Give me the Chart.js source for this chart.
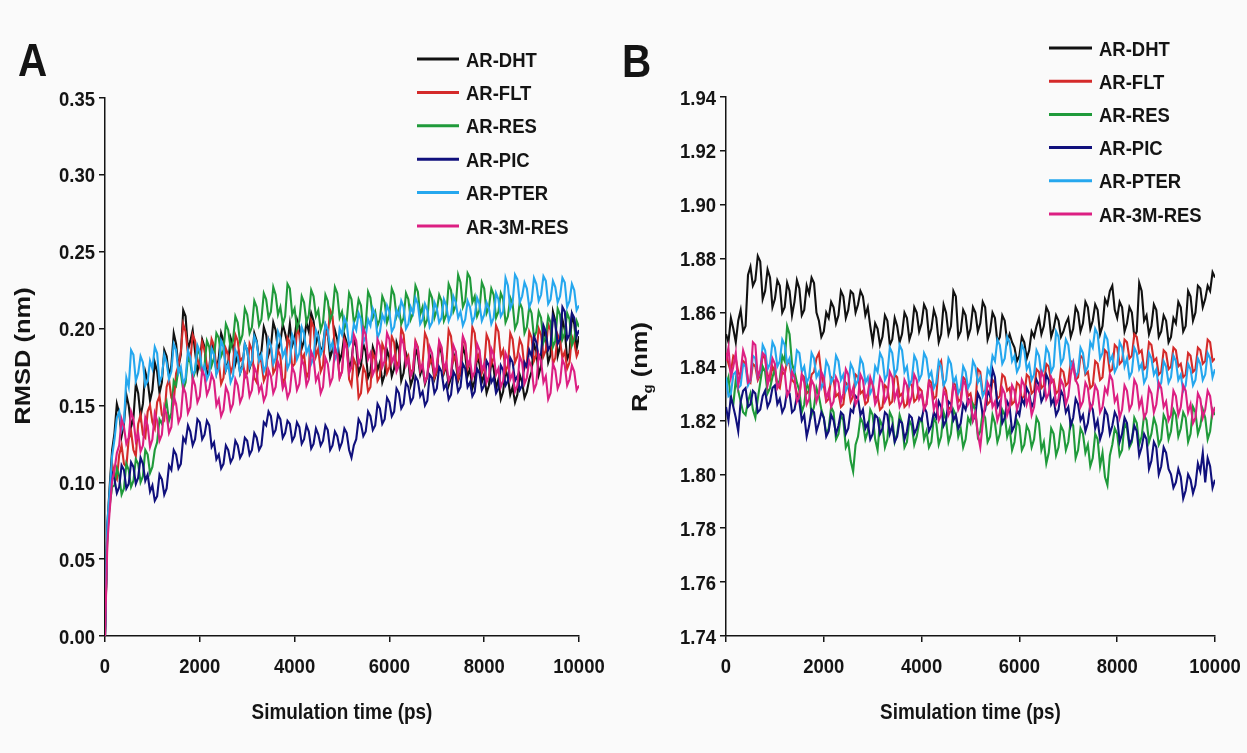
<!DOCTYPE html>
<html>
<head>
<meta charset="utf-8">
<script src="https://cdn.jsdelivr.net/npm/chart.js@4.4.1/dist/chart.umd.min.js"></script>
<style>
  html, body { margin: 0; padding: 0; background: #fafafa; }
  #wrap { position: relative; width: 1247px; height: 753px; overflow: hidden; }
  canvas { position: absolute; top: 0; }
  #chartA { left: 0; }
  #chartB { left: 620px; }
</style>
</head>
<body>
<div id="wrap">
  <canvas id="chartA" width="620" height="753"></canvas>
  <canvas id="chartB" width="627" height="753"></canvas>
</div>
<script>
// time axis, 0..10000 ps, one sample every 50 ps
const timePs = Array.from({ length: 201 }, (_, i) => i * 50);

const seriesNames = ['AR-DHT', 'AR-FLT', 'AR-RES', 'AR-PIC', 'AR-PTER', 'AR-3M-RES'];
const seriesColors = ['#111111', '#d42a2a', '#1f9a3a', '#10107c', '#25a7ee', '#dc1f82'];

const xTicks = [0, 2000, 4000, 6000, 8000, 10000];
const rmsdTicks = [0.00, 0.05, 0.10, 0.15, 0.20, 0.25, 0.30, 0.35];
const rgTicks = [1.74, 1.76, 1.78, 1.80, 1.82, 1.84, 1.86, 1.88, 1.90, 1.92, 1.94];

// panel A - RMSD (nm)
const rmsdDHT = [
  0, 0.072, 0.098, 0.121, 0.132, 0.151, 0.145, 0.130, 0.138, 0.157, 0.150, 0.136, 0.142, 0.164, 0.158, 0.143, 0.151, 0.172, 0.166, 0.153,
  0.160, 0.178, 0.172, 0.158, 0.165, 0.186, 0.182, 0.169, 0.176, 0.197, 0.190, 0.175, 0.183, 0.212, 0.208, 0.186, 0.192, 0.199, 0.185, 0.172,
  0.179, 0.193, 0.188, 0.169, 0.174, 0.191, 0.186, 0.172, 0.181, 0.197, 0.192, 0.173, 0.178, 0.194, 0.189, 0.177, 0.183, 0.171, 0.176, 0.190,
  0.186, 0.174, 0.179, 0.197, 0.192, 0.180, 0.185, 0.201, 0.196, 0.183, 0.188, 0.204, 0.199, 0.186, 0.191, 0.203, 0.197, 0.190, 0.203, 0.189,
  0.194, 0.206, 0.201, 0.187, 0.192, 0.204, 0.198, 0.210, 0.205, 0.190, 0.196, 0.184, 0.189, 0.202, 0.197, 0.181, 0.186, 0.199, 0.193, 0.179,
  0.184, 0.196, 0.191, 0.174, 0.179, 0.193, 0.188, 0.171, 0.176, 0.190, 0.185, 0.168, 0.172, 0.188, 0.183, 0.173, 0.178, 0.165, 0.170, 0.186,
  0.181, 0.169, 0.174, 0.191, 0.186, 0.166, 0.171, 0.184, 0.179, 0.163, 0.168, 0.187, 0.182, 0.170, 0.175, 0.164, 0.169, 0.183, 0.178, 0.167,
  0.172, 0.189, 0.184, 0.171, 0.176, 0.163, 0.168, 0.184, 0.179, 0.166, 0.171, 0.188, 0.183, 0.169, 0.174, 0.161, 0.166, 0.182, 0.177, 0.165,
  0.170, 0.158, 0.163, 0.179, 0.174, 0.161, 0.167, 0.154, 0.159, 0.173, 0.168, 0.157, 0.162, 0.152, 0.157, 0.170, 0.165, 0.155, 0.159, 0.167,
  0.172, 0.190, 0.185, 0.170, 0.176, 0.199, 0.194, 0.178, 0.183, 0.211, 0.205, 0.182, 0.188, 0.206, 0.199, 0.180, 0.184, 0.209, 0.203, 0.187,
  0.195
];
const rmsdFLT = [
  0, 0.066, 0.088, 0.112, 0.105, 0.102, 0.118, 0.124, 0.112, 0.110, 0.128, 0.133, 0.121, 0.117, 0.138, 0.144, 0.131, 0.129, 0.146, 0.150,
  0.139, 0.135, 0.152, 0.156, 0.144, 0.141, 0.162, 0.167, 0.155, 0.152, 0.171, 0.176, 0.185, 0.203, 0.198, 0.184, 0.179, 0.196, 0.192, 0.180,
  0.175, 0.191, 0.186, 0.176, 0.172, 0.193, 0.189, 0.174, 0.178, 0.164, 0.168, 0.187, 0.183, 0.171, 0.176, 0.196, 0.192, 0.179, 0.181, 0.168,
  0.171, 0.190, 0.186, 0.168, 0.165, 0.182, 0.178, 0.166, 0.170, 0.193, 0.189, 0.171, 0.174, 0.186, 0.182, 0.164, 0.168, 0.194, 0.191, 0.175,
  0.177, 0.200, 0.196, 0.180, 0.183, 0.168, 0.172, 0.205, 0.201, 0.182, 0.187, 0.172, 0.176, 0.199, 0.195, 0.212, 0.208, 0.188, 0.184, 0.168,
  0.172, 0.193, 0.189, 0.167, 0.163, 0.180, 0.176, 0.155, 0.158, 0.175, 0.171, 0.159, 0.162, 0.184, 0.180, 0.166, 0.169, 0.190, 0.186, 0.171,
  0.175, 0.195, 0.191, 0.175, 0.179, 0.200, 0.196, 0.178, 0.182, 0.170, 0.174, 0.192, 0.188, 0.173, 0.177, 0.197, 0.193, 0.177, 0.181, 0.168,
  0.172, 0.191, 0.187, 0.172, 0.176, 0.199, 0.195, 0.179, 0.183, 0.167, 0.171, 0.194, 0.190, 0.174, 0.178, 0.201, 0.197, 0.180, 0.184, 0.171,
  0.175, 0.196, 0.192, 0.177, 0.181, 0.202, 0.198, 0.182, 0.186, 0.172, 0.176, 0.197, 0.193, 0.178, 0.182, 0.193, 0.189, 0.174, 0.178, 0.198,
  0.194, 0.179, 0.183, 0.200, 0.196, 0.182, 0.186, 0.203, 0.199, 0.177, 0.181, 0.196, 0.192, 0.181, 0.185, 0.174, 0.178, 0.195, 0.191, 0.182,
  0.186
];
const rmsdRES = [
  0, 0.069, 0.085, 0.097, 0.098, 0.109, 0.104, 0.092, 0.096, 0.112, 0.108, 0.097, 0.101, 0.115, 0.112, 0.100, 0.104, 0.121, 0.118, 0.106,
  0.110, 0.121, 0.126, 0.141, 0.138, 0.146, 0.152, 0.140, 0.145, 0.166, 0.163, 0.174, 0.171, 0.160, 0.165, 0.181, 0.178, 0.167, 0.172, 0.187,
  0.183, 0.171, 0.176, 0.192, 0.188, 0.176, 0.181, 0.197, 0.194, 0.182, 0.186, 0.203, 0.199, 0.187, 0.192, 0.208, 0.204, 0.191, 0.196, 0.213,
  0.209, 0.197, 0.201, 0.218, 0.214, 0.202, 0.206, 0.223, 0.219, 0.207, 0.211, 0.227, 0.222, 0.209, 0.214, 0.203, 0.208, 0.229, 0.226, 0.209,
  0.213, 0.200, 0.205, 0.221, 0.217, 0.204, 0.209, 0.225, 0.221, 0.208, 0.212, 0.199, 0.204, 0.222, 0.218, 0.205, 0.210, 0.227, 0.223, 0.207,
  0.211, 0.200, 0.205, 0.223, 0.219, 0.204, 0.208, 0.219, 0.215, 0.198, 0.202, 0.224, 0.220, 0.207, 0.211, 0.202, 0.206, 0.221, 0.217, 0.204,
  0.209, 0.226, 0.222, 0.208, 0.213, 0.203, 0.207, 0.223, 0.219, 0.206, 0.210, 0.228, 0.224, 0.209, 0.214, 0.202, 0.206, 0.224, 0.220, 0.207,
  0.212, 0.222, 0.218, 0.205, 0.209, 0.229, 0.225, 0.211, 0.215, 0.235, 0.230, 0.214, 0.218, 0.236, 0.233, 0.217, 0.221, 0.208, 0.212, 0.230,
  0.226, 0.210, 0.214, 0.226, 0.222, 0.207, 0.211, 0.223, 0.219, 0.204, 0.208, 0.220, 0.216, 0.200, 0.204, 0.217, 0.213, 0.197, 0.201, 0.214,
  0.210, 0.194, 0.198, 0.211, 0.207, 0.191, 0.195, 0.208, 0.204, 0.188, 0.192, 0.213, 0.209, 0.193, 0.197, 0.210, 0.206, 0.189, 0.193, 0.205,
  0.201
];
const rmsdPIC = [
  0, 0.071, 0.088, 0.106, 0.102, 0.093, 0.097, 0.111, 0.108, 0.096, 0.099, 0.113, 0.110, 0.099, 0.103, 0.116, 0.112, 0.101, 0.105, 0.094,
  0.098, 0.088, 0.091, 0.105, 0.102, 0.092, 0.096, 0.111, 0.108, 0.121, 0.118, 0.109, 0.112, 0.129, 0.126, 0.137, 0.133, 0.124, 0.128, 0.141,
  0.139, 0.128, 0.131, 0.140, 0.137, 0.123, 0.126, 0.115, 0.118, 0.109, 0.112, 0.124, 0.121, 0.113, 0.116, 0.127, 0.124, 0.116, 0.119, 0.129,
  0.127, 0.118, 0.121, 0.132, 0.129, 0.121, 0.124, 0.139, 0.137, 0.146, 0.143, 0.131, 0.134, 0.144, 0.141, 0.129, 0.132, 0.140, 0.138, 0.127,
  0.130, 0.139, 0.136, 0.125, 0.128, 0.137, 0.133, 0.122, 0.125, 0.135, 0.131, 0.124, 0.127, 0.137, 0.134, 0.121, 0.124, 0.133, 0.130, 0.122,
  0.126, 0.135, 0.132, 0.121, 0.116, 0.124, 0.128, 0.141, 0.138, 0.130, 0.133, 0.146, 0.143, 0.134, 0.137, 0.151, 0.148, 0.138, 0.141, 0.155,
  0.152, 0.143, 0.146, 0.161, 0.158, 0.148, 0.151, 0.165, 0.162, 0.152, 0.155, 0.169, 0.166, 0.156, 0.159, 0.150, 0.153, 0.170, 0.168, 0.158,
  0.161, 0.175, 0.172, 0.161, 0.164, 0.154, 0.157, 0.172, 0.169, 0.159, 0.162, 0.177, 0.174, 0.162, 0.165, 0.156, 0.159, 0.174, 0.171, 0.160,
  0.163, 0.179, 0.176, 0.165, 0.168, 0.158, 0.161, 0.176, 0.173, 0.163, 0.166, 0.181, 0.178, 0.166, 0.169, 0.160, 0.163, 0.178, 0.175, 0.186,
  0.182, 0.195, 0.191, 0.181, 0.184, 0.202, 0.198, 0.186, 0.189, 0.208, 0.204, 0.190, 0.193, 0.214, 0.211, 0.193, 0.196, 0.210, 0.207, 0.195,
  0.199
];
const rmsdPTER = [
  0, 0.074, 0.095, 0.117, 0.128, 0.142, 0.146, 0.134, 0.139, 0.168, 0.162, 0.186, 0.183, 0.166, 0.171, 0.182, 0.178, 0.163, 0.166, 0.179,
  0.174, 0.188, 0.184, 0.165, 0.169, 0.183, 0.178, 0.167, 0.172, 0.190, 0.186, 0.171, 0.175, 0.164, 0.168, 0.186, 0.181, 0.169, 0.173, 0.189,
  0.185, 0.172, 0.176, 0.167, 0.171, 0.187, 0.183, 0.170, 0.174, 0.192, 0.188, 0.173, 0.177, 0.165, 0.169, 0.186, 0.182, 0.171, 0.175, 0.190,
  0.186, 0.175, 0.179, 0.195, 0.191, 0.179, 0.183, 0.172, 0.176, 0.193, 0.189, 0.177, 0.181, 0.198, 0.194, 0.182, 0.186, 0.174, 0.178, 0.196,
  0.192, 0.180, 0.184, 0.201, 0.197, 0.184, 0.188, 0.177, 0.181, 0.199, 0.195, 0.183, 0.187, 0.203, 0.199, 0.187, 0.191, 0.180, 0.184, 0.200,
  0.196, 0.207, 0.203, 0.189, 0.192, 0.203, 0.199, 0.210, 0.206, 0.191, 0.195, 0.206, 0.202, 0.213, 0.209, 0.194, 0.198, 0.209, 0.205, 0.215,
  0.211, 0.198, 0.201, 0.212, 0.208, 0.218, 0.214, 0.200, 0.203, 0.214, 0.210, 0.220, 0.216, 0.203, 0.206, 0.216, 0.212, 0.201, 0.204, 0.217,
  0.213, 0.204, 0.207, 0.219, 0.215, 0.205, 0.209, 0.221, 0.217, 0.207, 0.211, 0.202, 0.206, 0.218, 0.214, 0.204, 0.208, 0.220, 0.216, 0.205,
  0.209, 0.217, 0.213, 0.203, 0.207, 0.223, 0.219, 0.208, 0.211, 0.233, 0.228, 0.213, 0.217, 0.235, 0.232, 0.217, 0.221, 0.230, 0.226, 0.214,
  0.218, 0.233, 0.229, 0.218, 0.222, 0.234, 0.231, 0.216, 0.219, 0.231, 0.227, 0.217, 0.221, 0.233, 0.230, 0.214, 0.218, 0.229, 0.225, 0.212,
  0.215
];
const rmsd3MRES = [
  0, 0.061, 0.082, 0.101, 0.108, 0.119, 0.124, 0.141, 0.136, 0.125, 0.129, 0.146, 0.141, 0.127, 0.132, 0.120, 0.124, 0.142, 0.137, 0.123,
  0.128, 0.145, 0.140, 0.127, 0.131, 0.149, 0.144, 0.132, 0.136, 0.156, 0.151, 0.139, 0.143, 0.162, 0.158, 0.145, 0.149, 0.168, 0.163, 0.152,
  0.156, 0.173, 0.169, 0.157, 0.161, 0.170, 0.166, 0.150, 0.154, 0.143, 0.147, 0.162, 0.158, 0.147, 0.151, 0.167, 0.163, 0.152, 0.156, 0.172,
  0.168, 0.156, 0.160, 0.175, 0.171, 0.159, 0.163, 0.153, 0.157, 0.173, 0.169, 0.158, 0.162, 0.178, 0.174, 0.161, 0.165, 0.155, 0.159, 0.175,
  0.171, 0.160, 0.164, 0.180, 0.176, 0.163, 0.167, 0.185, 0.181, 0.166, 0.170, 0.158, 0.162, 0.181, 0.177, 0.164, 0.168, 0.187, 0.183, 0.168,
  0.172, 0.191, 0.187, 0.171, 0.175, 0.196, 0.192, 0.177, 0.181, 0.200, 0.196, 0.180, 0.184, 0.170, 0.174, 0.193, 0.189, 0.175, 0.179, 0.197,
  0.193, 0.178, 0.182, 0.172, 0.176, 0.194, 0.190, 0.176, 0.180, 0.169, 0.173, 0.191, 0.187, 0.173, 0.177, 0.165, 0.169, 0.188, 0.184, 0.171,
  0.175, 0.192, 0.188, 0.174, 0.178, 0.166, 0.170, 0.189, 0.185, 0.172, 0.176, 0.195, 0.191, 0.176, 0.180, 0.168, 0.172, 0.190, 0.186, 0.173,
  0.177, 0.165, 0.169, 0.187, 0.183, 0.170, 0.174, 0.162, 0.166, 0.184, 0.180, 0.167, 0.171, 0.159, 0.163, 0.182, 0.178, 0.164, 0.168, 0.179,
  0.175, 0.160, 0.164, 0.183, 0.179, 0.165, 0.169, 0.154, 0.158, 0.177, 0.173, 0.161, 0.165, 0.180, 0.176, 0.163, 0.167, 0.176, 0.172, 0.160,
  0.163
];

// panel B - radius of gyration (nm)
const rgDHT = [
  1.852, 1.849, 1.858, 1.854, 1.849, 1.857, 1.861, 1.853, 1.855, 1.874, 1.877, 1.870, 1.872, 1.881, 1.879, 1.865, 1.868, 1.876, 1.873, 1.862,
  1.865, 1.872, 1.870, 1.860, 1.862, 1.871, 1.868, 1.859, 1.864, 1.872, 1.869, 1.859, 1.861, 1.870, 1.867, 1.873, 1.871, 1.860, 1.857, 1.851,
  1.853, 1.860, 1.858, 1.864, 1.862, 1.856, 1.859, 1.868, 1.866, 1.858, 1.861, 1.868, 1.867, 1.860, 1.863, 1.868, 1.866, 1.859, 1.862, 1.855,
  1.849, 1.856, 1.854, 1.848, 1.851, 1.859, 1.857, 1.848, 1.850, 1.858, 1.855, 1.849, 1.852, 1.860, 1.858, 1.850, 1.853, 1.862, 1.860, 1.853,
  1.856, 1.863, 1.861, 1.851, 1.854, 1.861, 1.858, 1.849, 1.852, 1.863, 1.860, 1.852, 1.855, 1.868, 1.866, 1.851, 1.853, 1.861, 1.859, 1.851,
  1.854, 1.862, 1.860, 1.853, 1.856, 1.864, 1.862, 1.850, 1.853, 1.860, 1.858, 1.849, 1.851, 1.859, 1.857, 1.849, 1.852, 1.849, 1.847, 1.842,
  1.844, 1.851, 1.849, 1.843, 1.846, 1.853, 1.851, 1.855, 1.858, 1.852, 1.855, 1.862, 1.860, 1.851, 1.854, 1.859, 1.857, 1.851, 1.853, 1.856,
  1.858, 1.851, 1.854, 1.862, 1.860, 1.853, 1.856, 1.864, 1.862, 1.854, 1.857, 1.863, 1.861, 1.852, 1.855, 1.865, 1.863, 1.868, 1.870, 1.861,
  1.858, 1.864, 1.862, 1.853, 1.856, 1.862, 1.860, 1.851, 1.853, 1.871, 1.868, 1.857, 1.859, 1.852, 1.855, 1.863, 1.861, 1.851, 1.853, 1.859,
  1.857, 1.849, 1.851, 1.858, 1.856, 1.864, 1.862, 1.853, 1.855, 1.868, 1.866, 1.857, 1.860, 1.870, 1.869, 1.862, 1.865, 1.870, 1.868, 1.875,
  1.873
];
const rgFLT = [
  1.845, 1.841, 1.838, 1.844, 1.843, 1.838, 1.836, 1.842, 1.841, 1.835, 1.834, 1.841, 1.840, 1.835, 1.837, 1.844, 1.843, 1.837, 1.835, 1.840,
  1.838, 1.833, 1.832, 1.838, 1.837, 1.842, 1.841, 1.835, 1.834, 1.830, 1.829, 1.837, 1.836, 1.830, 1.831, 1.837, 1.838, 1.843, 1.845, 1.837,
  1.833, 1.827, 1.828, 1.836, 1.835, 1.829, 1.830, 1.825, 1.826, 1.834, 1.833, 1.827, 1.829, 1.837, 1.836, 1.830, 1.831, 1.826, 1.827, 1.835,
  1.834, 1.828, 1.829, 1.824, 1.825, 1.833, 1.832, 1.826, 1.827, 1.837, 1.836, 1.829, 1.830, 1.825, 1.826, 1.834, 1.833, 1.827, 1.828, 1.832,
  1.831, 1.825, 1.826, 1.835, 1.834, 1.828, 1.829, 1.840, 1.842, 1.833, 1.831, 1.824, 1.825, 1.834, 1.833, 1.827, 1.828, 1.836, 1.835, 1.829,
  1.830, 1.825, 1.826, 1.839, 1.838, 1.830, 1.831, 1.826, 1.827, 1.835, 1.834, 1.828, 1.829, 1.837, 1.836, 1.831, 1.832, 1.826, 1.827, 1.834,
  1.833, 1.828, 1.829, 1.837, 1.836, 1.830, 1.831, 1.839, 1.838, 1.832, 1.833, 1.841, 1.840, 1.834, 1.835, 1.830, 1.831, 1.839, 1.838, 1.833,
  1.834, 1.842, 1.841, 1.835, 1.836, 1.844, 1.843, 1.837, 1.838, 1.832, 1.833, 1.842, 1.841, 1.835, 1.836, 1.846, 1.845, 1.838, 1.839, 1.848,
  1.847, 1.841, 1.842, 1.850, 1.849, 1.843, 1.844, 1.852, 1.851, 1.845, 1.846, 1.839, 1.840, 1.849, 1.848, 1.842, 1.843, 1.837, 1.838, 1.846,
  1.845, 1.839, 1.840, 1.847, 1.846, 1.840, 1.841, 1.836, 1.837, 1.845, 1.844, 1.838, 1.839, 1.847, 1.846, 1.841, 1.842, 1.850, 1.849, 1.842,
  1.843
];
const rgRES = [
  1.833, 1.836, 1.828, 1.826, 1.835, 1.831, 1.827, 1.823, 1.822, 1.827, 1.830, 1.824, 1.821, 1.828, 1.834, 1.840, 1.838, 1.830, 1.832, 1.836,
  1.839, 1.833, 1.835, 1.844, 1.842, 1.855, 1.852, 1.841, 1.838, 1.834, 1.831, 1.823, 1.826, 1.834, 1.831, 1.822, 1.825, 1.832, 1.829, 1.824,
  1.821, 1.815, 1.817, 1.825, 1.823, 1.813, 1.815, 1.822, 1.820, 1.810, 1.812, 1.805, 1.801, 1.811, 1.814, 1.821, 1.819, 1.813, 1.816, 1.824,
  1.822, 1.813, 1.809, 1.820, 1.818, 1.810, 1.813, 1.823, 1.821, 1.812, 1.815, 1.822, 1.819, 1.810, 1.812, 1.820, 1.818, 1.811, 1.814, 1.819,
  1.821, 1.813, 1.816, 1.810, 1.812, 1.821, 1.819, 1.811, 1.814, 1.823, 1.820, 1.812, 1.815, 1.824, 1.822, 1.814, 1.817, 1.810, 1.813, 1.821,
  1.819, 1.826, 1.824, 1.814, 1.816, 1.823, 1.821, 1.812, 1.814, 1.822, 1.819, 1.812, 1.815, 1.824, 1.822, 1.814, 1.817, 1.809, 1.812, 1.820,
  1.818, 1.809, 1.811, 1.818, 1.816, 1.810, 1.813, 1.821, 1.819, 1.809, 1.812, 1.804, 1.808, 1.817, 1.815, 1.807, 1.810, 1.818, 1.816, 1.809,
  1.812, 1.820, 1.818, 1.806, 1.809, 1.817, 1.815, 1.808, 1.811, 1.803, 1.806, 1.815, 1.813, 1.803, 1.808, 1.799, 1.796, 1.807, 1.811, 1.817,
  1.815, 1.807, 1.809, 1.819, 1.817, 1.810, 1.812, 1.821, 1.819, 1.811, 1.814, 1.822, 1.820, 1.812, 1.815, 1.821, 1.818, 1.811, 1.813, 1.822,
  1.820, 1.813, 1.816, 1.824, 1.822, 1.814, 1.817, 1.823, 1.821, 1.812, 1.815, 1.825, 1.823, 1.815, 1.818, 1.824, 1.821, 1.813, 1.816, 1.824,
  1.822
];
const rgPIC = [
  1.825, 1.820, 1.829, 1.825, 1.821, 1.816, 1.827, 1.831, 1.832, 1.825, 1.826, 1.831, 1.830, 1.823, 1.824, 1.829, 1.831, 1.825, 1.827, 1.832,
  1.833, 1.826, 1.828, 1.823, 1.825, 1.831, 1.830, 1.823, 1.824, 1.829, 1.827, 1.820, 1.822, 1.814, 1.818, 1.824, 1.823, 1.816, 1.819, 1.823,
  1.821, 1.814, 1.816, 1.822, 1.820, 1.815, 1.818, 1.823, 1.822, 1.815, 1.817, 1.824, 1.823, 1.829, 1.828, 1.822, 1.824, 1.817, 1.819, 1.813,
  1.815, 1.822, 1.821, 1.815, 1.817, 1.823, 1.822, 1.815, 1.818, 1.812, 1.814, 1.820, 1.819, 1.813, 1.816, 1.822, 1.821, 1.815, 1.817, 1.821,
  1.820, 1.825, 1.823, 1.816, 1.818, 1.823, 1.821, 1.827, 1.825, 1.818, 1.820, 1.827, 1.826, 1.820, 1.822, 1.817, 1.819, 1.826, 1.824, 1.828,
  1.827, 1.820, 1.822, 1.830, 1.828, 1.822, 1.824, 1.831, 1.829, 1.839, 1.836, 1.825, 1.827, 1.819, 1.821, 1.827, 1.825, 1.816, 1.818, 1.824,
  1.822, 1.828, 1.826, 1.832, 1.830, 1.825, 1.827, 1.835, 1.833, 1.827, 1.829, 1.837, 1.835, 1.826, 1.828, 1.822, 1.824, 1.831, 1.829, 1.823,
  1.825, 1.818, 1.821, 1.828, 1.826, 1.820, 1.822, 1.816, 1.819, 1.826, 1.824, 1.817, 1.820, 1.813, 1.816, 1.824, 1.822, 1.815, 1.818, 1.823,
  1.821, 1.812, 1.815, 1.821, 1.819, 1.811, 1.813, 1.818, 1.816, 1.807, 1.810, 1.815, 1.813, 1.802, 1.805, 1.812, 1.810, 1.800, 1.803, 1.810,
  1.808, 1.802, 1.800, 1.795, 1.797, 1.802, 1.799, 1.791, 1.794, 1.800, 1.798, 1.793, 1.796, 1.804, 1.801, 1.808, 1.797, 1.806, 1.803, 1.795,
  1.798
];
const rgPTER = [
  1.836, 1.829, 1.830, 1.837, 1.838, 1.832, 1.833, 1.841, 1.840, 1.833, 1.835, 1.844, 1.843, 1.836, 1.838, 1.848, 1.846, 1.839, 1.841, 1.849,
  1.847, 1.840, 1.842, 1.850, 1.848, 1.841, 1.843, 1.836, 1.838, 1.846, 1.845, 1.838, 1.840, 1.834, 1.836, 1.845, 1.843, 1.836, 1.838, 1.832,
  1.834, 1.842, 1.840, 1.834, 1.836, 1.844, 1.842, 1.835, 1.837, 1.831, 1.833, 1.841, 1.839, 1.833, 1.835, 1.843, 1.841, 1.834, 1.836, 1.830,
  1.832, 1.840, 1.838, 1.845, 1.843, 1.835, 1.837, 1.847, 1.845, 1.837, 1.839, 1.848, 1.846, 1.838, 1.840, 1.833, 1.835, 1.844, 1.842, 1.835,
  1.837, 1.845, 1.843, 1.836, 1.838, 1.832, 1.834, 1.842, 1.840, 1.833, 1.835, 1.843, 1.841, 1.834, 1.836, 1.830, 1.832, 1.840, 1.838, 1.832,
  1.834, 1.842, 1.840, 1.834, 1.836, 1.829, 1.831, 1.839, 1.837, 1.844, 1.842, 1.850, 1.848, 1.841, 1.843, 1.851, 1.849, 1.842, 1.844, 1.838,
  1.840, 1.848, 1.846, 1.839, 1.841, 1.835, 1.837, 1.846, 1.844, 1.837, 1.839, 1.847, 1.845, 1.838, 1.840, 1.853, 1.851, 1.841, 1.843, 1.850,
  1.848, 1.840, 1.842, 1.836, 1.838, 1.847, 1.845, 1.838, 1.840, 1.849, 1.847, 1.854, 1.852, 1.843, 1.845, 1.852, 1.850, 1.842, 1.844, 1.838,
  1.840, 1.849, 1.847, 1.840, 1.843, 1.836, 1.838, 1.847, 1.845, 1.839, 1.841, 1.834, 1.836, 1.845, 1.843, 1.837, 1.839, 1.832, 1.834, 1.842,
  1.840, 1.834, 1.836, 1.844, 1.842, 1.835, 1.837, 1.831, 1.833, 1.841, 1.839, 1.833, 1.835, 1.843, 1.841, 1.835, 1.837, 1.845, 1.843, 1.836,
  1.839
];
const rg3MRES = [
  1.842, 1.847, 1.836, 1.840, 1.845, 1.833, 1.838, 1.846, 1.843, 1.834, 1.835, 1.849, 1.848, 1.836, 1.839, 1.845, 1.844, 1.833, 1.837, 1.843,
  1.841, 1.832, 1.834, 1.840, 1.838, 1.829, 1.831, 1.838, 1.836, 1.827, 1.829, 1.837, 1.834, 1.826, 1.828, 1.835, 1.833, 1.827, 1.830, 1.838,
  1.836, 1.828, 1.831, 1.825, 1.827, 1.836, 1.834, 1.827, 1.830, 1.839, 1.837, 1.829, 1.832, 1.826, 1.828, 1.837, 1.835, 1.828, 1.830, 1.836,
  1.833, 1.826, 1.828, 1.836, 1.834, 1.827, 1.829, 1.838, 1.836, 1.828, 1.831, 1.825, 1.827, 1.835, 1.833, 1.826, 1.829, 1.837, 1.835, 1.828,
  1.830, 1.824, 1.826, 1.834, 1.832, 1.824, 1.827, 1.820, 1.822, 1.831, 1.829, 1.822, 1.824, 1.833, 1.831, 1.824, 1.826, 1.835, 1.833, 1.826,
  1.828, 1.820, 1.823, 1.815, 1.810, 1.819, 1.826, 1.834, 1.832, 1.825, 1.827, 1.820, 1.823, 1.832, 1.830, 1.822, 1.825, 1.833, 1.831, 1.824,
  1.827, 1.835, 1.833, 1.826, 1.829, 1.822, 1.825, 1.833, 1.831, 1.838, 1.836, 1.828, 1.830, 1.836, 1.834, 1.826, 1.828, 1.835, 1.833, 1.826,
  1.829, 1.837, 1.841, 1.835, 1.833, 1.825, 1.827, 1.834, 1.832, 1.824, 1.826, 1.833, 1.831, 1.823, 1.825, 1.832, 1.830, 1.837, 1.835, 1.827,
  1.829, 1.821, 1.824, 1.833, 1.831, 1.824, 1.826, 1.835, 1.833, 1.825, 1.828, 1.821, 1.823, 1.832, 1.830, 1.823, 1.826, 1.834, 1.832, 1.825,
  1.827, 1.820, 1.822, 1.831, 1.829, 1.822, 1.825, 1.833, 1.831, 1.823, 1.826, 1.819, 1.821, 1.830, 1.828, 1.821, 1.824, 1.831, 1.829, 1.822,
  1.825
];

const BASE_FONT = "'Liberation Sans', Arial, Helvetica, sans-serif";
const INK = '#141414';
const SQUEEZE = 0.88; // the figure's lettering is horizontally compressed

Chart.defaults.font.family = BASE_FONT;
Chart.defaults.font.weight = 'bold';
Chart.defaults.color = INK;

function squeezedText(ctx, text, x, y, size, align) {
  ctx.save();
  ctx.font = 'bold ' + size + 'px ' + BASE_FONT;
  ctx.translate(x, y);
  ctx.scale(SQUEEZE, 1);
  ctx.textAlign = align || 'left';
  ctx.textBaseline = 'alphabetic';
  ctx.fillText(text, 0, 0);
  ctx.restore();
}

// letter, legend, tick labels and axis titles
const panelDecor = {
  id: 'panelDecor',
  afterDraw(chart, args, opts) {
    const ctx = chart.ctx;
    const area = chart.chartArea;
    const xs = chart.scales.x;
    const ys = chart.scales.y;
    ctx.save();
    ctx.fillStyle = INK;

    squeezedText(ctx, opts.letter, opts.letterX, opts.letterY, 46);

    // tick labels
    xs.ticks.forEach(t => {
      squeezedText(ctx, String(t.value), xs.getPixelForValue(t.value), area.bottom + 37, 21, 'center');
    });
    ys.ticks.forEach(t => {
      squeezedText(ctx, t.value.toFixed(2), area.left - 10, ys.getPixelForValue(t.value) + 7.5, 21, 'right');
    });

    // x title
    squeezedText(ctx, 'Simulation time (ps)', (area.left + area.right) / 2, 719, 21.5, 'center');

    // legend
    seriesNames.forEach((name, i) => {
      const y = opts.legendY + i * opts.legendStep;
      ctx.strokeStyle = seriesColors[i];
      ctx.lineWidth = 3;
      ctx.beginPath();
      ctx.moveTo(opts.legendX, y);
      ctx.lineTo(opts.legendX + opts.legendLine, y);
      ctx.stroke();
      squeezedText(ctx, name, opts.legendX + opts.legendLine + 7, y + 7.5, 21);
    });

    // y title, rotated
    ctx.translate(opts.yTitleX, opts.yTitleY);
    ctx.scale(SQUEEZE, 1);
    ctx.rotate(-Math.PI / 2);
    ctx.textBaseline = 'middle';
    ctx.textAlign = 'left';
    let total = 0;
    opts.yTitle.forEach(p => {
      ctx.font = 'bold ' + p.size + 'px ' + BASE_FONT;
      total += ctx.measureText(p.text).width;
    });
    let x = -total / 2;
    opts.yTitle.forEach(p => {
      ctx.font = 'bold ' + p.size + 'px ' + BASE_FONT;
      ctx.fillText(p.text, x, p.dy || 0);
      x += ctx.measureText(p.text).width;
    });
    ctx.restore();
  }
};

function makeDatasets(series) {
  return series.map((vals, i) => ({
    label: seriesNames[i],
    data: vals.map((v, k) => ({ x: timePs[k], y: v })),
    borderColor: seriesColors[i],
    borderWidth: 2.1,
    pointRadius: 0,
    tension: 0,
    order: series.length - i
  }));
}

function axisStyle() {
  return {
    grid: { display: true, drawOnChartArea: false, drawTicks: true, tickLength: 6, color: INK, lineWidth: 1.5 },
    border: { display: true, color: INK, width: 1.5 }
  };
}

function makeChart(id, series, yTicks, decor, pad, leftWidth) {
  return new Chart(document.getElementById(id), {
    type: 'line',
    data: { datasets: makeDatasets(series) },
    options: {
      responsive: false,
      animation: false,
      devicePixelRatio: 1,
      layout: { padding: pad },
      plugins: {
        legend: { display: false },
        tooltip: { enabled: false },
        panelDecor: decor
      },
      scales: {
        x: {
          type: 'linear',
          min: xTicks[0],
          max: xTicks[xTicks.length - 1],
          ...axisStyle(),
          afterBuildTicks: s => { s.ticks = xTicks.map(v => ({ value: v })); },
          ticks: { display: false },
          afterFit: s => { s.height = 753 - 636; }
        },
        y: {
          type: 'linear',
          min: yTicks[0],
          max: yTicks[yTicks.length - 1],
          ...axisStyle(),
          afterBuildTicks: s => { s.ticks = yTicks.map(v => ({ value: v })); },
          ticks: { display: false },
          afterFit: s => { s.width = leftWidth; }
        }
      }
    },
    plugins: [panelDecor]
  });
}

makeChart('chartA',
  [rmsdDHT, rmsdFLT, rmsdRES, rmsdPIC, rmsdPTER, rmsd3MRES],
  rmsdTicks,
  {
    letter: 'A', letterX: 18, letterY: 76,
    legendX: 417, legendY: 59, legendStep: 33.4, legendLine: 42,
    yTitleX: 24, yTitleY: 356,
    yTitle: [{ text: 'RMSD (nm)', size: 25.5 }]
  },
  { left: 0, right: 41, top: 98, bottom: 0 },
  105
);

makeChart('chartB',
  [rgDHT, rgFLT, rgRES, rgPIC, rgPTER, rg3MRES],
  rgTicks,
  {
    letter: 'B', letterX: 2, letterY: 77,
    legendX: 429, legendY: 48, legendStep: 33.2, legendLine: 43,
    yTitleX: 21, yTitleY: 367,
    yTitle: [{ text: 'R', size: 25.5 }, { text: 'g', size: 15, dy: 8 }, { text: ' (nm)', size: 25.5 }]
  },
  { left: 0, right: 32, top: 97, bottom: 0 },
  106
);
</script>
</body>
</html>
